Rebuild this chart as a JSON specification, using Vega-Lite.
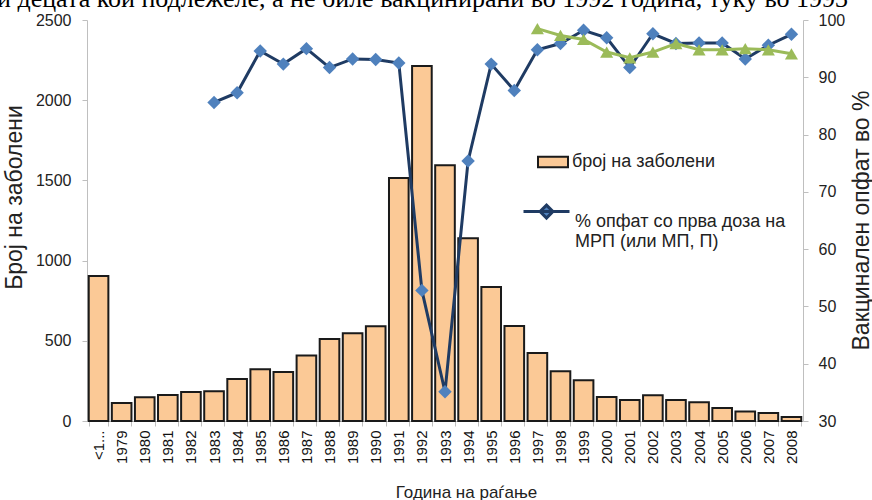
{
"$schema": "https://vega.github.io/schema/vega-lite/v6.json",
"width": 716, "height": 401,
"autosize": {"type": "none"},
"padding": {"left": 87, "top": 20, "right": 69, "bottom": 79},
"background": "white",
"title": {"text": "и децата кои подлежеле, а не биле вакцинирани во 1992 година, туку во 1993", "anchor": "start", "frame": "group", "font": "Liberation Serif", "fontSize": 26, "fontWeight": "normal", "color": "black", "baseline": "alphabetic", "offset": 5, "dx": -90, "dy": 26},
"config": {"view": {"stroke": null}, "axis": {"grid": false, "labelFont": "Liberation Sans", "titleFont": "Liberation Sans", "titleFontWeight": "normal", "labelColor": "#222", "titleColor": "#222", "domainColor": "#BFBFBF", "tickColor": "#BFBFBF"}, "legend": {"labelFont": "Liberation Sans", "labelColor": "#222"}},
"data": {"values": [
{"yr": "<1...", "c": 904, "b": null, "g": null},
{"yr": "1979", "c": 112, "b": null, "g": null},
{"yr": "1980", "c": 148, "b": null, "g": null},
{"yr": "1981", "c": 162, "b": null, "g": null},
{"yr": "1982", "c": 181, "b": null, "g": null},
{"yr": "1983", "c": 185, "b": 85.6, "g": null},
{"yr": "1984", "c": 262, "b": 87.3, "g": null},
{"yr": "1985", "c": 322, "b": 94.6, "g": null},
{"yr": "1986", "c": 305, "b": 92.3, "g": null},
{"yr": "1987", "c": 408, "b": 95.0, "g": null},
{"yr": "1988", "c": 511, "b": 91.7, "g": null},
{"yr": "1989", "c": 547, "b": 93.2, "g": null},
{"yr": "1990", "c": 590, "b": 93.1, "g": null},
{"yr": "1991", "c": 1515, "b": 92.5, "g": null},
{"yr": "1992", "c": 2213, "b": 52.8, "g": null},
{"yr": "1993", "c": 1594, "b": 35.1, "g": null},
{"yr": "1994", "c": 1139, "b": 75.4, "g": null},
{"yr": "1995", "c": 835, "b": 92.3, "g": null},
{"yr": "1996", "c": 592, "b": 87.7, "g": null},
{"yr": "1997", "c": 424, "b": 94.8, "g": 98.5},
{"yr": "1998", "c": 310, "b": 95.9, "g": 97.3},
{"yr": "1999", "c": 254, "b": 98.2, "g": 96.6},
{"yr": "2000", "c": 150, "b": 96.9, "g": 94.4},
{"yr": "2001", "c": 131, "b": 91.7, "g": 93.4},
{"yr": "2002", "c": 160, "b": 97.6, "g": 94.4},
{"yr": "2003", "c": 131, "b": 95.9, "g": 95.9},
{"yr": "2004", "c": 117, "b": 96.0, "g": 94.8},
{"yr": "2005", "c": 81, "b": 96.0, "g": 94.8},
{"yr": "2006", "c": 59, "b": 93.2, "g": 95.0},
{"yr": "2007", "c": 50, "b": 95.6, "g": 94.8},
{"yr": "2008", "c": 25, "b": 97.5, "g": 94.1}
]},
"encoding": {
  "x": {"field": "yr", "type": "nominal", "sort": null, "scale": {"paddingInner": 0.15, "paddingOuter": 0.075},
    "axis": {"title": "Година на раѓање", "titleFontSize": 17, "titleX": 379, "titleY": 76, "titleBaseline": "alphabetic", "titleAlign": "center", "labelAngle": -90, "labelFontSize": 15, "labelColor": "#111", "labelPadding": 4, "tickSize": 5, "tickBand": "extent", "labelOverlap": false}}
},
"layer": [
  {"mark": {"type": "bar", "stroke": "#1a1a1a", "strokeWidth": 2},
   "encoding": {
     "y": {"field": "c", "type": "quantitative", "scale": {"domain": [0, 2500]},
       "axis": {"title": "Број на заболени", "format": "d", "values": [0, 500, 1000, 1500, 2000, 2500], "labelFontSize": 16, "tickSize": 5, "labelPadding": 11, "titleFontSize": 23, "titleAngle": 270, "titleX": -73, "titleY": 177, "titleAlign": "center", "titleBaseline": "middle"}},
     "fill": {"datum": "број на заболени", "scale": {"range": ["#FBC996"]},
       "legend": {"title": null, "orient": "none", "legendX": 450, "legendY": 126, "labelFontSize": 18, "symbolType": "M-1,-0.35H1V0.35H-1Z", "symbolSize": 900, "symbolStrokeColor": "#1a1a1a", "symbolStrokeWidth": 2, "labelOffset": 3}}
   }},
  {"layer": [
    {"mark": {"type": "line", "strokeWidth": 3},
     "encoding": {
       "y": {"field": "b", "type": "quantitative", "scale": {"domain": [30, 100]},
         "axis": {"orient": "right", "title": "Вакцинален опфат во %", "values": [30, 40, 50, 60, 70, 80, 90, 100], "labelFontSize": 16, "tickSize": 5, "labelPadding": 10, "titleFontSize": 23, "titleAngle": 270, "titleX": 58, "titleY": 200, "titleAlign": "center", "titleBaseline": "middle"}},
       "stroke": {"datum": "% опфат со прва доза на МРП (или МП, П)", "scale": {"range": ["#1F3B63"]},
         "legend": {"title": null, "orient": "none", "legendX": 435, "legendY": 177, "labelFontSize": 18, "labelLimit": 400, "labelExpr": "['% опфат со прва доза на', 'МРП (или МП, П)']", "symbolType": "M-1,-0.43H1M0,-0.71L0.28,-0.43L0,-0.15L-0.28,-0.43Z", "symbolSize": 2116, "symbolStrokeWidth": 3, "symbolFillColor": "#4F81BD", "labelOffset": 4}}
     }},
    {"mark": {"type": "point", "shape": "diamond", "filled": true, "size": 180, "color": "#4F81BD", "opacity": 1},
     "encoding": {"y": {"field": "b", "type": "quantitative", "scale": {"domain": [30, 100]},
         "axis": {"orient": "right", "title": "Вакцинален опфат во %", "values": [30, 40, 50, 60, 70, 80, 90, 100], "labelFontSize": 16, "tickSize": 5, "labelPadding": 10, "titleFontSize": 23, "titleAngle": 270, "titleX": 58, "titleY": 200, "titleAlign": "center", "titleBaseline": "middle"}}}},
    {"mark": {"type": "line", "strokeWidth": 3, "color": "#9BBB59"},
     "encoding": {"y": {"field": "g", "type": "quantitative", "scale": {"domain": [30, 100]},
         "axis": {"orient": "right", "title": "Вакцинален опфат во %", "values": [30, 40, 50, 60, 70, 80, 90, 100], "labelFontSize": 16, "tickSize": 5, "labelPadding": 10, "titleFontSize": 23, "titleAngle": 270, "titleX": 58, "titleY": 200, "titleAlign": "center", "titleBaseline": "middle"}}}},
    {"mark": {"type": "point", "shape": "triangle-up", "filled": true, "size": 170, "color": "#9BBB59", "opacity": 1},
     "encoding": {"y": {"field": "g", "type": "quantitative", "scale": {"domain": [30, 100]},
         "axis": {"orient": "right", "title": "Вакцинален опфат во %", "values": [30, 40, 50, 60, 70, 80, 90, 100], "labelFontSize": 16, "tickSize": 5, "labelPadding": 10, "titleFontSize": 23, "titleAngle": 270, "titleX": 58, "titleY": 200, "titleAlign": "center", "titleBaseline": "middle"}}}}
  ]}
],
"resolve": {"scale": {"y": "independent"}}
}
